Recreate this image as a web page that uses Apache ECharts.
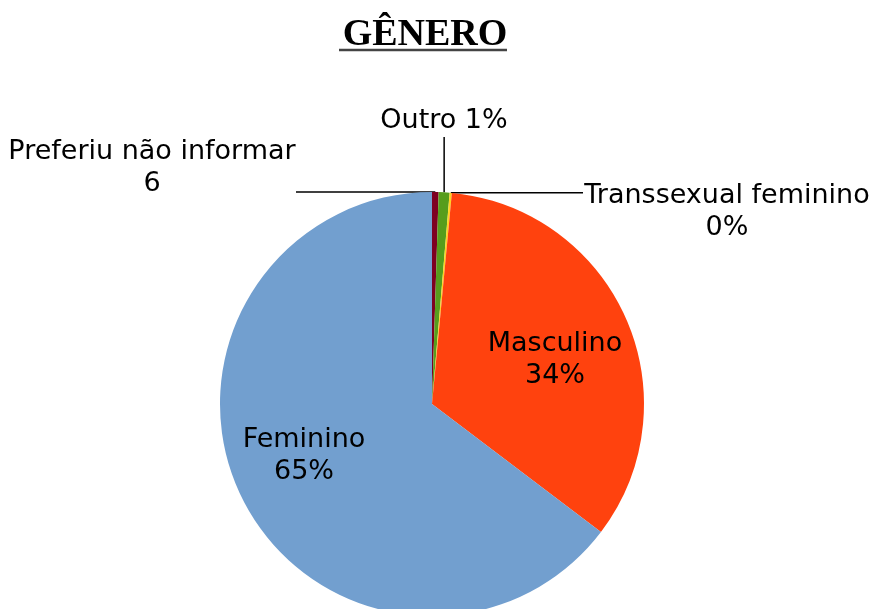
<!DOCTYPE html>
<html>
<head>
<meta charset="utf-8">
<script src="https://cdn.jsdelivr.net/npm/echarts@6/dist/echarts.min.js"></script>
<style>
  html, body { margin: 0; padding: 0; background: #fff; }
  #chart { width: 872px; height: 609px; }
</style>
</head>
<body>
<div id="chart"></div>
<script>
// clockwise from 12 o'clock
var categories = ['Preferiu não informar', 'Outro', 'Transsexual feminino', 'Masculino', 'Feminino'];
var counts = [6, 10, 2, 408, 780];
var colors = ['#7E0021', '#579D1C', '#FFD320', '#FF420E', '#729FCF'];

var labelFont = 'DejaVu Sans';

function labelText(p) {
    var pct = Math.round(p.percent) + '%';
    if (p.dataIndex === 0) return p.name + '\n' + p.value;
    if (p.dataIndex === 1) return p.name + ' ' + pct;
    return p.name + '\n' + pct;
}

function placeLabel(p) {
    var a = p.labelLinePoints ? p.labelLinePoints[0] : null;
    switch (p.dataIndex) {
        case 0:
            return { x: 152, y: 168, align: 'center', verticalAlign: 'middle',
                labelLinePoints: [a, [296, a[1]], [296, a[1]]] };
        case 1:
            return { x: 444, y: 121, align: 'center', verticalAlign: 'middle',
                labelLinePoints: [a, [a[0], 137], [a[0], 137]] };
        case 2:
            return { x: 727, y: 212, align: 'center', verticalAlign: 'middle',
                labelLinePoints: [a, [583, a[1]], [583, a[1]]] };
        case 3:
            return { x: 555, y: 360, align: 'center', verticalAlign: 'middle' };
        default:
            return { x: 304, y: 456, align: 'center', verticalAlign: 'middle' };
    }
}

var chart = echarts.init(document.getElementById('chart'));

var pieData = categories.map(function (name, i) {
    var item = { name: name, value: counts[i], itemStyle: { color: colors[i] } };
    if (i >= 3) {
        item.label = { position: 'inside' };
        item.labelLine = { show: false };
    }
    return item;
});

chart.setOption({
    backgroundColor: '#ffffff',
    animation: false,
    title: {
        text: 'GÊNERO',
        left: 420,
        top: 11,
        textAlign: 'center',
        textStyle: {
            fontFamily: 'Liberation Serif',
            fontWeight: 'bold',
            fontSize: 38,
            color: '#000'
        }
    },
    graphic: [{
        type: 'line',
        shape: { x1: 339, y1: 50, x2: 507, y2: 50 },
        style: { stroke: '#444', lineWidth: 2.5 }
    }],
    series: [{
        type: 'pie',
        center: [432, 404],
        radius: 212,
        startAngle: 90,
        clockwise: true,
        avoidLabelOverlap: false,
        itemStyle: { borderWidth: 0 },
        label: {
            show: true,
            position: 'outside',
            formatter: labelText,
            fontFamily: labelFont,
            fontSize: 27,
            lineHeight: 32,
            color: '#000'
        },
        labelLine: {
            show: true,
            lineStyle: { color: '#000', width: 1.5 }
        },
        labelLayout: placeLabel,
        emphasis: { disabled: true },
        data: pieData
    }]
});
</script>
</body>
</html>
